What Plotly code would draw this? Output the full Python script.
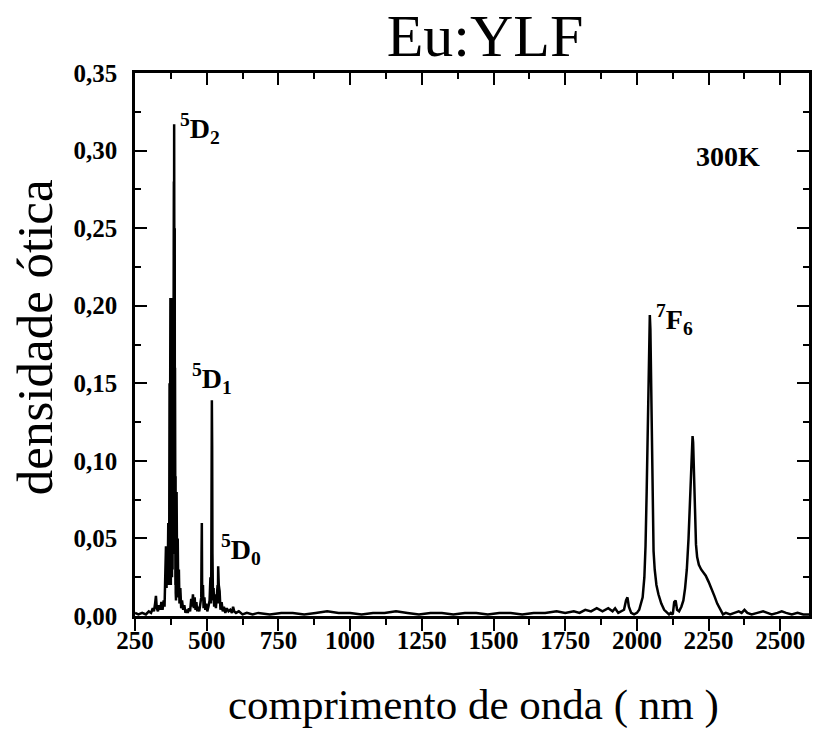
import plotly.graph_objects as go

# ---- data ----
wavelength_nm = [
    250, 262, 275, 288, 298, 306, 312, 316, 320, 323, 326, 330, 334, 338, 342, 346, 350, 353,
    356, 358, 360, 362, 364, 366,
    368.0, 368.5, 369.0, 369.5, 370.0, 370.5, 371.0, 371.5, 372.0, 372.5, 373.0, 373.5,
    374.0, 374.5, 375.0, 375.5, 376.0, 376.5, 377.0, 377.5, 378.0, 378.5, 379.0, 379.5,
    380.0, 380.5, 381.0, 381.5, 382.0, 382.5, 383.0, 383.5, 384.0, 384.5, 385.0, 385.5,
    386.0, 386.5, 387.0, 387.5, 388.0, 388.5, 389.0, 389.5, 390.0, 390.5, 391.0, 391.5,
    392.0, 392.5, 393.0, 393.5, 394.0, 395, 397, 399, 401,
    403, 405, 408, 411, 414, 418, 422, 426, 430, 434, 438, 442, 446, 449, 452, 455, 458, 461,
    464, 467, 470, 474, 478, 481, 482, 483, 484, 485, 487, 489, 492, 495, 498, 502, 506, 510, 513, 515,
    516, 517, 518, 519, 520, 522, 524, 526, 529, 532, 535, 538, 539, 540, 541, 542, 545, 548, 552, 556, 560,
    565, 570, 576, 582, 588, 592, 596, 602, 612, 625, 640, 660,
    680, 720, 760, 800, 840, 880, 920, 960, 1000, 1040, 1080, 1120, 1160, 1200, 1240, 1280,
    1320, 1360, 1400, 1440, 1480, 1520, 1560, 1600, 1640, 1680, 1720,
    1750, 1780, 1800, 1820, 1840, 1860, 1880, 1900, 1915, 1924, 1935, 1945, 1955, 1962, 1967,
    1972, 1980, 1990, 2000, 2008, 2015, 2020, 2026, 2030, 2034, 2037, 2040, 2043, 2045, 2047,
    2049, 2051, 2053, 2055, 2058, 2062, 2068, 2075, 2085, 2095, 2105, 2112, 2118, 2125, 2130,
    2135, 2140, 2147, 2155, 2162, 2168, 2174, 2180, 2184, 2188, 2191, 2194, 2196, 2198, 2200,
    2203, 2206, 2210, 2216, 2224, 2232, 2240, 2250, 2260, 2270, 2280, 2290, 2300, 2310, 2325,
    2340, 2355, 2365, 2375, 2385, 2400, 2420, 2440, 2455, 2470, 2490, 2505, 2520, 2540, 2560,
    2580, 2600,
]
absorbance = [
    0.002, 0.001, 0.002, 0.001, 0.003, 0.002, 0.005, 0.003, 0.008, 0.013, 0.005, 0.003, 0.007, 0.004, 0.009, 0.004, 0.010, 0.006,
    0.030, 0.045, 0.018, 0.040, 0.025, 0.060,
    0.035, 0.080, 0.020, 0.110, 0.030, 0.150, 0.025, 0.180, 0.040, 0.200, 0.030, 0.205,
    0.050, 0.198, 0.020, 0.204, 0.060, 0.190, 0.030, 0.205, 0.045, 0.200, 0.025, 0.196,
    0.070, 0.203, 0.030, 0.190, 0.050, 0.200, 0.040, 0.185, 0.100, 0.230, 0.120, 0.280,
    0.150, 0.317, 0.200, 0.300, 0.120, 0.250, 0.060, 0.160, 0.030, 0.120, 0.020, 0.090,
    0.015, 0.060, 0.010, 0.045, 0.012, 0.080, 0.020, 0.050, 0.012,
    0.030, 0.008, 0.018, 0.005, 0.010, 0.004, 0.007, 0.002, 0.004, 0.002, 0.005, 0.003, 0.011, 0.006, 0.014, 0.005, 0.012, 0.004,
    0.009, 0.003, 0.006, 0.003, 0.008, 0.012, 0.040, 0.060, 0.020, 0.010, 0.020, 0.005, 0.012, 0.004, 0.008, 0.003, 0.006, 0.010, 0.025, 0.008,
    0.030, 0.080, 0.139, 0.110, 0.040, 0.010, 0.018, 0.006, 0.014, 0.005, 0.012, 0.020, 0.008, 0.032, 0.010, 0.020, 0.016, 0.004, 0.009, 0.003, 0.006,
    0.002, 0.005, 0.003, 0.004, 0.002, 0.006, 0.003, 0.002, 0.003, 0.001, 0.002, 0.001,
    0.002, 0.001, 0.002, 0.002, 0.001, 0.002, 0.003, 0.002, 0.002, 0.001, 0.002, 0.002, 0.003, 0.002, 0.001, 0.002,
    0.002, 0.001, 0.002, 0.002, 0.001, 0.002, 0.002, 0.001, 0.002, 0.002, 0.003,
    0.002, 0.003, 0.002, 0.004, 0.003, 0.005, 0.003, 0.005, 0.003, 0.005, 0.002, 0.003, 0.004, 0.010, 0.012,
    0.006, 0.002, 0.001, 0.002, 0.004, 0.008, 0.012, 0.025, 0.045, 0.080, 0.110, 0.150, 0.185, 0.194, 0.185,
    0.160, 0.130, 0.095, 0.065, 0.042, 0.030, 0.020, 0.014, 0.008, 0.004, 0.002, 0.001, 0.002, 0.001, 0.009,
    0.010, 0.004, 0.003, 0.006, 0.010, 0.018, 0.030, 0.050, 0.072, 0.095, 0.110, 0.116, 0.112, 0.095, 0.075,
    0.058, 0.046, 0.038, 0.033, 0.030, 0.028, 0.026, 0.022, 0.018, 0.013, 0.008, 0.004, 0.001, 0.002, 0.001,
    0.002, 0.003, 0.002, 0.004, 0.002, 0.001, 0.002, 0.003, 0.002, 0.001, 0.002, 0.003, 0.002, 0.001, 0.002,
    0.001, 0.001,
]

x_tick_values = [250, 500, 750, 1000, 1250, 1500, 1750, 2000, 2250, 2500]
x_tick_labels = ["250", "500", "750", "1000", "1250", "1500", "1750", "2000", "2250", "2500"]
y_tick_values = [0.00, 0.05, 0.10, 0.15, 0.20, 0.25, 0.30, 0.35]
y_tick_labels = ["0,00", "0,05", "0,10", "0,15", "0,20", "0,25", "0,30", "0,35"]

# transition labels: (text, wavelength, absorbance)
label_texts = ["<sup>5</sup>D<sub>2</sub>", "<sup>5</sup>D<sub>1</sub>", "<sup>5</sup>D<sub>0</sub>",
               "<sup>7</sup>F<sub>6</sub>", "300K"]
label_x = [476, 518, 620, 2130, 2316]
label_y = [0.314, 0.153, 0.043, 0.191, 0.296]

x_range = [250, 2600]
y_range = [0, 0.35]

SERIF = "Liberation Serif, Times New Roman, serif"

fig = go.Figure()
fig.add_trace(go.Scatter(x=wavelength_nm, y=absorbance, mode="lines",
                         line=dict(color="black", width=2.5), showlegend=False, hoverinfo="skip"))
# invisible trace to activate the top axis
fig.add_trace(go.Scatter(x=wavelength_nm, y=absorbance, mode="lines", xaxis="x2",
                         line=dict(color="rgba(0,0,0,0)", width=0), showlegend=False, hoverinfo="skip"))

tickfont = dict(family=SERIF, size=25, color="black", weight="bold")

fig.update_layout(
    width=819, height=733,
    margin=dict(l=135, r=7, t=73, b=117),
    paper_bgcolor="white", plot_bgcolor="white",
    showlegend=False,
    title=dict(text="Eu:YLF", x=485 / 819, xanchor="center", y=1 - 35 / 733, yanchor="middle",
               font=dict(family=SERIF, size=60, color="black")),
    xaxis=dict(range=x_range, tickmode="array", tickvals=x_tick_values, ticktext=x_tick_labels,
               ticks="outside", ticklen=12, tickwidth=2, tickcolor="black",
               minor=dict(ticks="outside", ticklen=6, tickwidth=2, tickcolor="black", dtick=125, tick0=250),
               showline=True, linecolor="black", linewidth=2.5, mirror=True,
               showgrid=False, zeroline=False, tickfont=tickfont, ticklabelstandoff=-12),
    xaxis2=dict(range=x_range, overlaying="x", side="top", anchor="y",
                tickmode="array", tickvals=x_tick_values, showticklabels=False,
                ticks="inside", ticklen=12, tickwidth=2, tickcolor="black",
                minor=dict(ticks="inside", ticklen=6, tickwidth=2, tickcolor="black", dtick=125, tick0=250),
                showline=False, showgrid=False, zeroline=False),
    yaxis=dict(range=y_range, tickmode="array", tickvals=y_tick_values, ticktext=y_tick_labels,
               ticks="inside", ticklen=12, tickwidth=2, tickcolor="black",
               minor=dict(ticks="inside", ticklen=6, tickwidth=2, tickcolor="black", dtick=0.025, tick0=0),
               showline=True, linecolor="black", linewidth=2.5, mirror="ticks",
               showgrid=False, zeroline=False, tickfont=tickfont, ticklabelstandoff=10),
)

for t, lx, ly in zip(label_texts, label_x, label_y):
    fig.add_annotation(x=lx, y=ly, xref="x", yref="y", text=t, showarrow=False,
                       xanchor="center", yanchor="middle",
                       font=dict(family=SERIF, size=28, color="black", weight="bold"))

# axis titles
fig.add_annotation(x=0.502, y=-0.164, xref="paper", yref="paper", text="comprimento de onda ( nm )",
                   showarrow=False, xanchor="center", yanchor="middle",
                   font=dict(family=SERIF, size=43, color="black"))
fig.add_annotation(x=-0.148, y=0.514, xref="paper", yref="paper", text="densidade ótica",
                   showarrow=False, xanchor="center", yanchor="middle", textangle=-90,
                   font=dict(family=SERIF, size=51, color="black"))

fig.write_html("out.html", config={"displayModeBar": False},
               post_script="document.body.style.margin='0';")
